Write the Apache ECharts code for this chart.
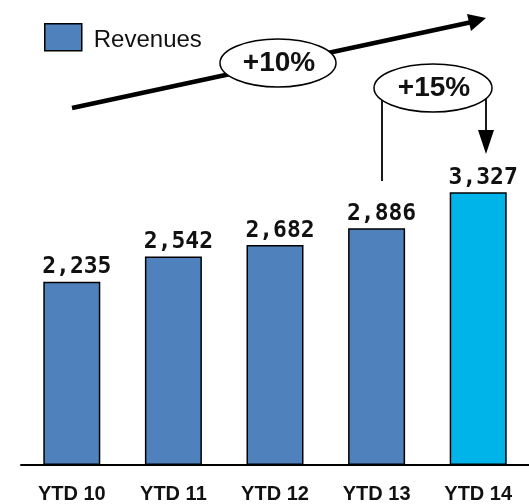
<!DOCTYPE html>
<html><head><meta charset="utf-8">
<script src="https://cdn.jsdelivr.net/npm/echarts@6/dist/echarts.min.js"></script>
<style>html,body{margin:0;padding:0;background:#fff}#c{width:529px;height:504px}</style>
</head><body><div id="c"></div>
<script>
const categories = ['YTD 10','YTD 11','YTD 12','YTD 13','YTD 14'];
const revenues = [2235, 2542, 2682, 2886, 3327];
const seriesName = 'Revenues';
const growthLabels = ['+10%', '+15%'];

const chart = echarts.init(document.getElementById('c'), null, {renderer:'canvas'});
const baseColor = '#4F81BD', highlight = '#00B4EA';
const data = revenues.map((v,i)=>({value:v, itemStyle:{color: i===revenues.length-1?highlight:baseColor}}));
chart.setOption({
  animation:false,
  grid:{left:21,right:-3,top:137,bottom:39},
  legend:{left:44,top:23,padding:0,itemWidth:37,itemHeight:27,icon:'rect',
    data:[{name:seriesName,itemStyle:{color:baseColor,borderColor:'#000',borderWidth:1.5}}],
    formatter:'{a|{name}}',
    textStyle:{fontFamily:'Liberation Sans',fontSize:24,color:'#111',
      rich:{a:{fontFamily:'Liberation Sans',fontSize:24,color:'#111',padding:[7,0,0,7]}}}},
  xAxis:{type:'category',data:categories,
    axisLine:{lineStyle:{color:'#000',width:2}},axisTick:{show:false},
    axisLabel:{margin:19,fontFamily:'Liberation Sans',fontWeight:'bold',fontSize:20,color:'#111'}},
  yAxis:{type:'value',min:0,max:4000,show:false,splitLine:{show:false}},
  series:[{name:seriesName,type:'bar',barWidth:57,data:data,
    itemStyle:{color:baseColor,borderColor:'#000',borderWidth:1.5},
    label:{show:true,position:'top',distance:3,offset:[5,0],fontFamily:'DejaVu Sans Mono',fontWeight:'bold',fontSize:23,color:'#111',
      formatter:p=>p.value.toLocaleString('en-US')}}],
  graphic:[
    {type:'line',shape:{x1:72,y1:108,x2:472,y2:22},style:{stroke:'#000',lineWidth:4.5},z:10},
    {type:'polygon',shape:{points:[[486,18],[467,14],[471,31]]},style:{fill:'#000'},z:10},
    {type:'ellipse',shape:{cx:278,cy:63,rx:58,ry:24},style:{fill:'#fff',stroke:'#000',lineWidth:1.5},z:11},
    {type:'text',x:279,y:63,style:{text:growthLabels[0],fontFamily:'Liberation Sans',fontWeight:'bold',fontSize:28,fill:'#111',align:'center',verticalAlign:'middle'},z:12},
    {type:'line',shape:{x1:382,y1:98,x2:382,y2:181},style:{stroke:'#000',lineWidth:1.8},z:10},
    {type:'line',shape:{x1:486,y1:98,x2:486,y2:134},style:{stroke:'#000',lineWidth:1.8},z:10},
    {type:'polygon',shape:{points:[[478,130],[494,130],[486,154]]},style:{fill:'#000'},z:10},
    {type:'ellipse',shape:{cx:433,cy:88,rx:59,ry:24},style:{fill:'#fff',stroke:'#000',lineWidth:1.5},z:11},
    {type:'text',x:434,y:88,style:{text:growthLabels[1],fontFamily:'Liberation Sans',fontWeight:'bold',fontSize:28,fill:'#111',align:'center',verticalAlign:'middle'},z:12}
  ]
});
</script></body></html>
